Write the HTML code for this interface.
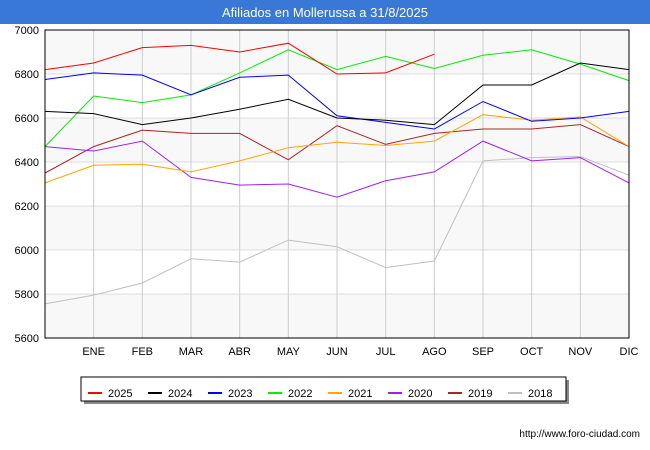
<!DOCTYPE html>
<html><head><meta charset="utf-8"><style>
body{margin:0;width:650px;height:450px;background:#fff;font-family:"Liberation Sans",sans-serif;overflow:hidden}
</style></head><body>
<svg width="650" height="450" style="position:absolute;left:0;top:0">
<rect x="0" y="0" width="650" height="24" fill="#3a78d8"/>
<text x="325" y="17" text-anchor="middle" fill="#fff" font-size="13">Afiliados en Mollerussa a 31/8/2025</text>
<g id="grid"></g><g id="series"></g><g id="axes"></g>
<g id="legend"></g>
<text x="640" y="437" text-anchor="end" font-size="10" fill="#000">http://www.foro-ciudad.com</text>
</svg>
<script>
const months=["","ENE","FEB","MAR","ABR","MAY","JUN","JUL","AGO","SEP","OCT","NOV","DIC"];
const yTicks=[5600,5800,6000,6200,6400,6600,6800,7000];
const years=["2025","2024","2023","2022","2021","2020","2019","2018"];
const colors=["#ff0000","#000000","#0000ff","#00ee00","#ffa500","#a020f0","#b22222","#c0c0c0"];
const s2025=[6820,6850,6920,6930,6900,6940,6800,6805,6890];
const s2024=[6630,6620,6570,6600,6640,6685,6600,6590,6570,6750,6750,6850,6820];
const s2023=[6775,6805,6795,6705,6785,6795,6610,6580,6550,6675,6585,6600,6630];
const s2022=[6470,6700,6670,6705,6805,6910,6820,6880,6825,6885,6910,6845,6770];
const s2021=[6305,6385,6390,6355,6405,6465,6490,6475,6495,6615,6590,6605,6470];
const s2020=[6470,6450,6495,6330,6295,6300,6240,6315,6355,6495,6405,6420,6305];
const s2019=[6350,6470,6545,6530,6530,6410,6565,6480,6530,6550,6550,6570,6470];
const s2018=[5755,5795,5850,5960,5945,6045,6015,5920,5950,6405,6420,6425,6340];
const allSeries=[s2025,s2024,s2023,s2022,s2021,s2020,s2019,s2018];
const X0=45,X1=629,Y0=338,Y1=30;
const xs=i=>X0+i*(X1-X0)/12;
const ys=v=>Y0-(v-5600)*(Y0-Y1)/1400;
const NS="http://www.w3.org/2000/svg";
function mk(p,t,a){const e=document.createElementNS(NS,t);for(const k in a)e.setAttribute(k,a[k]);p.appendChild(e);return e;}
const grid=document.getElementById('grid');
for(let i=0;i<yTicks.length-1;i++){
 if(i%2==0){const r=mk(grid,'rect',{x:X0,y:ys(yTicks[i+1]),width:X1-X0,height:ys(yTicks[i])-ys(yTicks[i+1]),fill:'#f8f8f8'});
 
 }
}
yTicks.forEach(v=>{const l=mk(grid,'line',{x1:X0,x2:X1,y1:ys(v),y2:ys(v),stroke:'#ddd'});


const t=mk(grid,'text',{x:X0-6,y:ys(v)+4,'text-anchor':'end','font-size':'11'});t.textContent=v;

});
months.forEach((m,i)=>{if(i>0){const l=mk(grid,'line',{x1:xs(i),x2:xs(i),y1:Y1,y2:Y0,stroke:'#ccc'});

}
const t=mk(grid,'text',{x:xs(i),y:Y0+17,'text-anchor':'middle','font-size':'11'});t.textContent=m;

});
const sg=document.getElementById('series');
allSeries.slice().reverse().forEach((s,ri)=>{const k=allSeries.length-1-ri;
const p=mk(sg,'polyline',{points:s.map((v,i)=>xs(i)+','+ys(v)).join(' '),fill:'none',stroke:colors[k],'stroke-width':1});

});
const ax=document.getElementById('axes');
const b=mk(ax,'rect',{x:X0,y:Y1,width:X1-X0,height:Y0-Y1,fill:'none',stroke:'#000'});


const lg=document.getElementById('legend');
mk(lg,'rect',{x:84,y:380,width:485,height:24,fill:'#888'});
mk(lg,'rect',{x:81,y:377,width:485,height:24,fill:'#fff',stroke:'#000'});
years.forEach((y,i)=>{const x=88+i*60;
const l=mk(lg,'line',{x1:x,x2:x+14,y1:393,y2:393,stroke:colors[i],'stroke-width':2});


const t=mk(lg,'text',{x:x+20,y:397,'font-size':'11'});t.textContent=y;

});
</script>
</body></html>
